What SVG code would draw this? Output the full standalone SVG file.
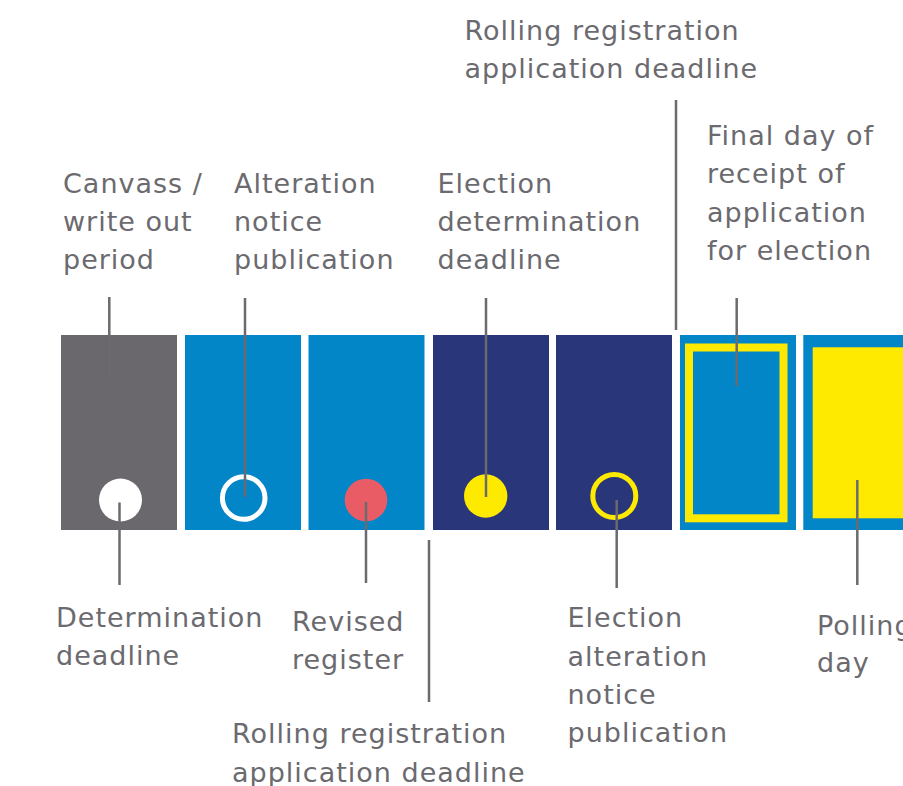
<svg xmlns="http://www.w3.org/2000/svg" width="903" height="786" viewBox="0 0 903 786">
<style>
text{font-family:"DejaVu Sans","Liberation Sans",sans-serif;font-size:27px;fill:#6b6a6f;letter-spacing:1px}
.ln{stroke:#6b6a6f;stroke-width:2.5;fill:none}
.gray{fill:#6a686d}.blue{fill:#0286c8}.navy{fill:#29367a}.yel{fill:#feea00}
</style>
<rect width="903" height="786" fill="#fff"/>
<g id="block1"><rect class="gray" x="61" y="335" width="116" height="195"/><circle cx="120.5" cy="500" r="21.5" fill="#fff"/></g>
<g id="block2"><rect class="blue" x="185" y="335" width="116" height="195"/><circle cx="243.7" cy="498" r="21.3" fill="none" stroke="#fff" stroke-width="5"/></g>
<g id="block3"><rect class="blue" x="308.5" y="335" width="116" height="195"/><circle cx="366" cy="500" r="21.3" fill="#e95c66"/></g>
<g id="block4"><rect class="navy" x="433" y="335" width="116" height="195"/><circle cx="485.7" cy="496" r="21.7" class="yel"/></g>
<g id="block5"><rect class="navy" x="556" y="335" width="116" height="195"/><circle cx="614.3" cy="496" r="21.5" fill="none" stroke="#feea00" stroke-width="5"/></g>
<g id="block6"><rect class="blue" x="680" y="335" width="116" height="195"/><rect x="689" y="347.5" width="94.5" height="170.8" fill="none" stroke="#feea00" stroke-width="8"/></g>
<g id="block7"><rect class="blue" x="803.3" y="335" width="120" height="195"/><rect class="yel" x="812.7" y="347.3" width="110" height="171"/></g>
<g id="connectors">
<line class="ln" x1="109.3" y1="297" x2="109.3" y2="381"/>
<line class="ln" x1="245" y1="298" x2="245" y2="497"/>
<line class="ln" x1="119.5" y1="502.5" x2="119.5" y2="585"/>
<line class="ln" x1="366" y1="502" x2="366" y2="583"/>
<line class="ln" x1="429" y1="540" x2="429" y2="702"/>
<line class="ln" x1="486" y1="298" x2="486" y2="497"/>
<line class="ln" x1="616.7" y1="500" x2="616.7" y2="588"/>
<line class="ln" x1="676" y1="100" x2="676" y2="330"/>
<line class="ln" x1="736.7" y1="298" x2="736.7" y2="386"/>
<line class="ln" x1="857.3" y1="480" x2="857.3" y2="585"/>
</g>
<g id="labels">
<text x="63" y="193">Canvass /</text><text x="63" y="231">write out</text><text x="63" y="269">period</text>
<text x="234" y="193">Alteration</text><text x="234" y="231">notice</text><text x="234" y="269">publication</text>
<text x="437.5" y="193">Election</text><text x="437.5" y="231">determination</text><text x="437.5" y="269">deadline</text>
<text x="464.5" y="40">Rolling registration</text><text x="464.5" y="77.5">application deadline</text>
<text x="707" y="145">Final day of</text><text x="707" y="183">receipt of</text><text x="707" y="221.5">application</text><text x="707" y="260">for election</text>
<text x="56" y="627">Determination</text><text x="56" y="665">deadline</text>
<text x="292" y="630.5">Revised</text><text x="292" y="668.5">register</text>
<text x="232" y="743">Rolling registration</text><text x="232" y="781.5">application deadline</text>
<text x="567.5" y="627">Election</text><text x="567.5" y="665.5">alteration</text><text x="567.5" y="704">notice</text><text x="567.5" y="742">publication</text>
<text x="817" y="635">Polling</text><text x="817" y="672">day</text>
</g>
</svg>
